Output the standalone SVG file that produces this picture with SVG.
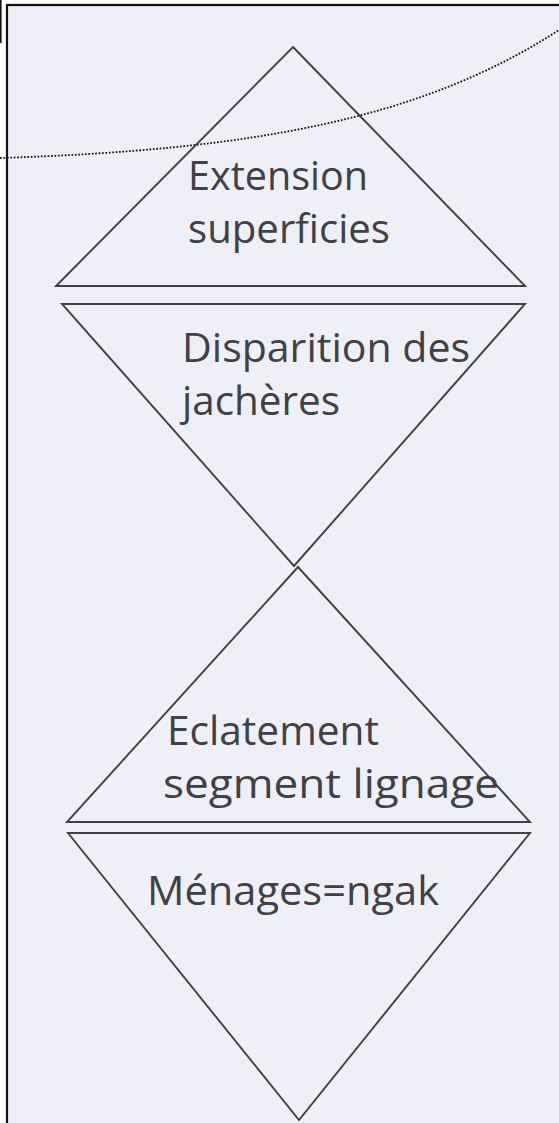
<svg xmlns="http://www.w3.org/2000/svg" width="559" height="1123" viewBox="0 0 559 1123">
<style>
.tri{fill:none;stroke:#404048;stroke-width:1.9;stroke-linejoin:miter}
.lbl{font-family:"Open Sans","Noto Sans",sans-serif;font-size:40px;fill:#404046}
</style>
<rect x="0" y="0" width="559" height="1123" fill="#ffffff"/>
<rect x="7" y="5" width="560" height="1130" fill="#efeff8" stroke="#111111" stroke-width="2.2"/>
<line x1="0.8" y1="0" x2="0.8" y2="43" stroke="#111111" stroke-width="1.6"/>
<g id="connectors">
<path d="M0,158 C250,150 420,120 559,30" fill="none" stroke="#111111" stroke-width="1.8" stroke-dasharray="1.7 1.7"/>
</g>
<g id="node-extension">
<polygon class="tri" points="293,47 525,286 56,286"/>
<text class="lbl" x="188" y="190" textLength="180" lengthAdjust="spacingAndGlyphs">Extension</text>
<text class="lbl" x="188" y="243" textLength="202" lengthAdjust="spacingAndGlyphs">superficies</text>
</g>
<g id="node-jacheres">
<polygon class="tri" points="62,304 525,304 294,566"/>
<text class="lbl" x="182" y="362" textLength="288" lengthAdjust="spacingAndGlyphs">Disparition des</text>
<text class="lbl" x="182" y="415" textLength="158" lengthAdjust="spacingAndGlyphs">jachères</text>
</g>
<g id="node-eclatement">
<polygon class="tri" points="298,567 530,822 67,822"/>
<text class="lbl" x="167" y="745" textLength="212" lengthAdjust="spacingAndGlyphs">Eclatement</text>
<text class="lbl" x="163" y="798" textLength="336" lengthAdjust="spacingAndGlyphs">segment lignage</text>
</g>
<g id="node-menages">
<polygon class="tri" points="68,833 530,833 299,1120"/>
<text class="lbl" x="147" y="905" textLength="292" lengthAdjust="spacingAndGlyphs">Ménages=ngak</text>
</g>
</svg>
